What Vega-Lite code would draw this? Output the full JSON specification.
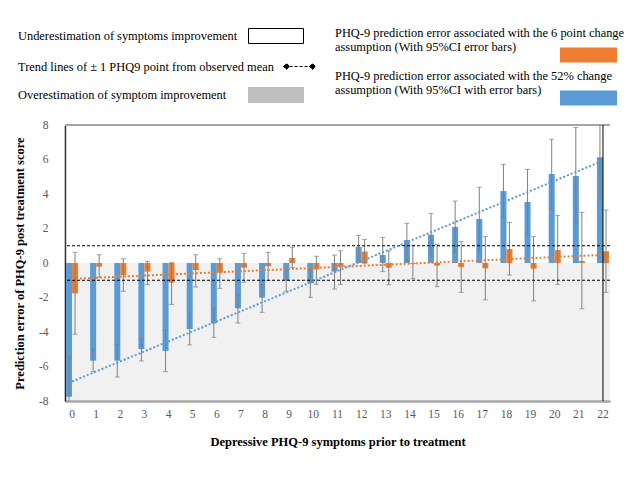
{
  "$schema": "https://vega.github.io/schema/vega-lite/v6.json",
  "width": 545,
  "height": 276,
  "autosize": "none",
  "padding": {"left": 65, "top": 125, "right": 30, "bottom": 79},
  "background": "white",
  "config": {
    "view": {"stroke": null},
    "font": "Liberation Serif",
    "axis": {"labelFont": "Liberation Serif", "titleFont": "Liberation Serif"},
    "axisY": {
      "values": [-8, -6, -4, -2, 0, 2, 4, 6, 8],
      "labelOverlap": false, "labelExpr": "'' + datum.value",
      "labelFontSize": 11.5, "labelColor": "#595959", "labelPadding": 17,
      "ticks": false, "grid": false, "domainColor": "black", "domainWidth": 1.5,
      "titleFontSize": 12.5, "titleFontWeight": "bold", "titleColor": "black", "titlePadding": 12
    },
    "legend": {"labelFont": "Liberation Serif", "titleFont": "Liberation Serif"}
  },
  "datasets": {
    "regions": [
      {"region": "Underestimation of symptoms improvement", "lo": 0, "hi": 8},
      {"region": "Overestimation of symptom improvement", "lo": -8, "hi": 0}
    ],
    "limits": [
      {"kind": "Trend lines of ± 1 PHQ9 point from observed mean", "y": 1},
      {"kind": "Trend lines of ± 1 PHQ9 point from observed mean", "y": -1}
    ],
    "trends": [
      {"score": 0, "series": "52%", "y": -6.87},
      {"score": 22, "series": "52%", "y": 5.93},
      {"score": 0, "series": "6 point", "y": -0.92},
      {"score": 22, "series": "6 point", "y": 0.47}
    ],
    "bars": [
      {"score": 0, "series": "52%", "value": -7.75, "lo": -10.07, "hi": -5.43},
      {"score": 1, "series": "52%", "value": -5.66, "lo": -6.3, "hi": -5.0},
      {"score": 2, "series": "52%", "value": -5.66, "lo": -6.61, "hi": -4.71},
      {"score": 3, "series": "52%", "value": -4.99, "lo": -5.68, "hi": -4.37},
      {"score": 4, "series": "52%", "value": -5.1, "lo": -6.3, "hi": -3.9},
      {"score": 5, "series": "52%", "value": -3.83, "lo": -4.75, "hi": -2.92},
      {"score": 6, "series": "52%", "value": -3.5, "lo": -4.31, "hi": -2.63},
      {"score": 7, "series": "52%", "value": -2.63, "lo": -3.48, "hi": -1.82},
      {"score": 8, "series": "52%", "value": -2.01, "lo": -2.86, "hi": -1.24},
      {"score": 9, "series": "52%", "value": -1.02, "lo": -1.64, "hi": -0.36},
      {"score": 10, "series": "52%", "value": -1.18, "lo": -1.99, "hi": -0.38},
      {"score": 11, "series": "52%", "value": -0.5, "lo": -1.51, "hi": 0.46},
      {"score": 12, "series": "52%", "value": 0.93, "lo": 0.17, "hi": 1.6},
      {"score": 13, "series": "52%", "value": 0.46, "lo": -0.5, "hi": 1.49},
      {"score": 14, "series": "52%", "value": 1.33, "lo": 0.1, "hi": 2.3},
      {"score": 15, "series": "52%", "value": 1.64, "lo": 0.41, "hi": 2.88},
      {"score": 16, "series": "52%", "value": 2.09, "lo": 0.6, "hi": 3.59},
      {"score": 17, "series": "52%", "value": 2.55, "lo": 0.66, "hi": 4.39},
      {"score": 18, "series": "52%", "value": 4.17, "lo": 2.65, "hi": 5.72},
      {"score": 19, "series": "52%", "value": 3.54, "lo": 1.66, "hi": 5.43},
      {"score": 20, "series": "52%", "value": 5.16, "lo": 3.17, "hi": 7.17},
      {"score": 21, "series": "52%", "value": 5.04, "lo": 2.3, "hi": 7.86},
      {"score": 22, "series": "52%", "value": 6.13, "lo": 3.75, "hi": 8.51},
      {"score": 0, "series": "6 point", "value": -1.76, "lo": -4.13, "hi": 0.62},
      {"score": 1, "series": "6 point", "value": -0.21, "lo": -0.83, "hi": 0.48},
      {"score": 2, "series": "6 point", "value": -0.7, "lo": -1.64, "hi": 0.25},
      {"score": 3, "series": "6 point", "value": -0.5, "lo": -1.24, "hi": 0.1},
      {"score": 4, "series": "6 point", "value": -1.14, "lo": -2.4, "hi": 0.02},
      {"score": 5, "series": "6 point", "value": -0.41, "lo": -1.39, "hi": 0.48},
      {"score": 6, "series": "6 point", "value": -0.56, "lo": -1.47, "hi": 0.25},
      {"score": 7, "series": "6 point", "value": -0.27, "lo": -1.12, "hi": 0.56},
      {"score": 8, "series": "6 point", "value": -0.19, "lo": -1.02, "hi": 0.62},
      {"score": 9, "series": "6 point", "value": 0.29, "lo": -0.27, "hi": 0.91},
      {"score": 10, "series": "6 point", "value": -0.37, "lo": -1.24, "hi": 0.39},
      {"score": 11, "series": "6 point", "value": -0.23, "lo": -1.24, "hi": 0.71},
      {"score": 12, "series": "6 point", "value": 0.66, "lo": -0.02, "hi": 1.37},
      {"score": 13, "series": "6 point", "value": -0.27, "lo": -1.26, "hi": 0.71},
      {"score": 14, "series": "6 point", "value": -0.05, "lo": -0.91, "hi": 1.03},
      {"score": 15, "series": "6 point", "value": -0.15, "lo": -1.37, "hi": 1.09},
      {"score": 16, "series": "6 point", "value": -0.23, "lo": -1.7, "hi": 1.24},
      {"score": 17, "series": "6 point", "value": -0.31, "lo": -2.14, "hi": 1.53},
      {"score": 18, "series": "6 point", "value": 0.81, "lo": -0.7, "hi": 2.34},
      {"score": 19, "series": "6 point", "value": -0.33, "lo": -2.2, "hi": 1.53},
      {"score": 20, "series": "6 point", "value": 0.75, "lo": -1.24, "hi": 2.76},
      {"score": 21, "series": "6 point", "value": 0.12, "lo": -2.65, "hi": 2.94},
      {"score": 22, "series": "6 point", "value": 0.68, "lo": -1.7, "hi": 3.07}
    ]
  },
  "layer": [
    {
      "data": {"name": "regions"},
      "mark": {"type": "rect", "opacity": 0.21},
      "encoding": {
        "y": {
          "field": "lo", "type": "quantitative",
          "scale": {"domain": [-8, 8], "nice": false, "zero": false},
          "axis": {"title": "Prediction error of PHQ-9 post treatment score", "values": [-8, -6, -4, -2, 0, 2, 4, 6, 8], "labelOverlap": false}
        },
        "y2": {"field": "hi"},
        "fill": {
          "field": "region", "type": "nominal",
          "scale": {"domain": ["Underestimation of symptoms improvement", "Overestimation of symptom improvement"], "range": ["#ffffff", "#bfbfbf"]},
          "legend": {
            "orient": "none", "legendX": 190.5, "legendY": -109.5, "title": null, "direction": "vertical", "padding": 0,
            "symbolType": "M-1.375,-0.375H1.375V0.375H-1.375Z", "symbolSize": 1600, "symbolStrokeWidth": 1, "symbolOpacity": 1,
            "labelFontSize": 12.4, "labelColor": "black", "labelLimit": 500, "labelAlign": "left", "labelOffset": -278.5,
            "rowPadding": 29,
            "encode": {"symbols": {"update": {
              "opacity": {"value": 1},
              "stroke": {"signal": "datum.value == 'Overestimation of symptom improvement' ? '#bfbfbf' : '#000000'"}
            }}}
          }
        }
      }
    },
    {
      "data": {"values": [{}]},
      "mark": {"type": "rule", "color": "#a6a6a6", "strokeWidth": 2},
      "encoding": {"y": {"datum": 8, "axis": {"title": "Prediction error of PHQ-9 post treatment score", "values": [-8, -6, -4, -2, 0, 2, 4, 6, 8], "labelOverlap": false}}}
    },
    {
      "data": {"name": "bars"},
      "mark": {"type": "bar"},
      "encoding": {
        "x": {
          "field": "score", "type": "ordinal",
          "scale": {"paddingInner": 0.5, "paddingOuter": 0.041},
          "axis": {
            "title": "Depressive PHQ-9 symptoms prior to treatment",
            "titleFontSize": 12.5, "titleFontWeight": "bold", "titleColor": "black", "titlePadding": 16,
            "labelAngle": 0, "labelFontSize": 11.5, "labelColor": "#595959", "labelPadding": 7,
            "ticks": false, "domainColor": "#a6a6a6", "domainWidth": 2.5
          }
        },
        "xOffset": {"field": "series", "type": "nominal", "sort": ["52%", "6 point"]},
        "y": {"field": "value", "type": "quantitative", "axis": {"title": "Prediction error of PHQ-9 post treatment score", "values": [-8, -6, -4, -2, 0, 2, 4, 6, 8], "labelOverlap": false}},
        "color": {
          "field": "series", "type": "nominal",
          "scale": {"domain": ["6 point", "52%"], "range": ["#ed7d31", "#5b9bd5"]},
          "legend": {
            "orient": "none", "legendX": 503.5, "legendY": -90, "title": null, "direction": "vertical", "padding": 0,
            "symbolType": "M-1.425,-0.375H1.425V0.375H-1.425Z", "symbolSize": 1600, "symbolStrokeWidth": 0,
            "labelFontSize": 12.4, "labelColor": "black", "labelLimit": 500, "labelAlign": "left", "labelOffset": -273.5,
            "labelBaseline": "top", "rowPadding": 6,
            "labelExpr": "datum.value == '6 point' ? ['PHQ-9 prediction error associated with the 6 point change', 'assumption (With 95%CI error bars)'] : ['PHQ-9 prediction error associated with the 52% change', 'assumption (With 95%CI with error bars)']",
            "encode": {"labels": {"update": {"lineHeight": {"value": 14.5}, "dy": {"value": -28.5}}}}
          }
        }
      }
    },
    {
      "data": {"name": "bars"},
      "mark": {"type": "rule", "color": "#7f7f7f", "strokeWidth": 1, "clip": true},
      "encoding": {
        "x": {"field": "score", "type": "ordinal"},
        "xOffset": {"field": "series", "type": "nominal", "sort": ["52%", "6 point"]},
        "y": {"field": "lo", "type": "quantitative", "axis": {"title": "Prediction error of PHQ-9 post treatment score", "values": [-8, -6, -4, -2, 0, 2, 4, 6, 8], "labelOverlap": false}},
        "y2": {"field": "hi"}
      }
    },
    {
      "data": {"name": "bars"},
      "mark": {"type": "tick", "color": "#7f7f7f", "thickness": 1, "size": 5, "orient": "horizontal", "clip": true},
      "encoding": {
        "x": {"field": "score", "type": "ordinal"},
        "xOffset": {"field": "series", "type": "nominal", "sort": ["52%", "6 point"]},
        "y": {"field": "lo", "type": "quantitative", "axis": {"title": "Prediction error of PHQ-9 post treatment score", "values": [-8, -6, -4, -2, 0, 2, 4, 6, 8], "labelOverlap": false}}
      }
    },
    {
      "data": {"name": "bars"},
      "mark": {"type": "tick", "color": "#7f7f7f", "thickness": 1, "size": 5, "orient": "horizontal", "clip": true},
      "encoding": {
        "x": {"field": "score", "type": "ordinal"},
        "xOffset": {"field": "series", "type": "nominal", "sort": ["52%", "6 point"]},
        "y": {"field": "hi", "type": "quantitative", "axis": {"title": "Prediction error of PHQ-9 post treatment score", "values": [-8, -6, -4, -2, 0, 2, 4, 6, 8], "labelOverlap": false}}
      }
    },
    {
      "data": {"name": "limits"},
      "mark": {"type": "rule", "color": "black", "strokeWidth": 1},
      "encoding": {
        "y": {"field": "y", "type": "quantitative", "axis": {"title": "Prediction error of PHQ-9 post treatment score", "values": [-8, -6, -4, -2, 0, 2, 4, 6, 8], "labelOverlap": false}},
        "strokeDash": {
          "field": "kind", "type": "nominal",
          "scale": {"range": [[3, 2]]},
          "legend": {
            "orient": "none", "legendX": 218, "legendY": -75, "title": null, "padding": 0,
            "symbolType": "M-1,0L-0.81,-0.19L-0.62,0L-0.81,0.19Z M-0.62,0H0.62 M0.62,0L0.81,-0.19L1,0L0.81,0.19Z",
            "symbolSize": 1024, "symbolFillColor": "black", "symbolStrokeColor": "black", "symbolStrokeWidth": 1,
            "labelFontSize": 12.4, "labelColor": "black", "labelLimit": 500, "labelAlign": "left", "labelOffset": -298
          }
        }
      }
    },
    {
      "data": {"name": "trends"},
      "transform": [{"filter": "datum.series == '52%'"}],
      "mark": {"type": "line", "color": "#5b9bd5", "strokeWidth": 2, "strokeDash": [2, 2]},
      "encoding": {
        "x": {"field": "score", "type": "ordinal"},
        "y": {"field": "y", "type": "quantitative", "axis": {"title": "Prediction error of PHQ-9 post treatment score", "values": [-8, -6, -4, -2, 0, 2, 4, 6, 8], "labelOverlap": false}}
      }
    },
    {
      "data": {"name": "trends"},
      "transform": [{"filter": "datum.series == '6 point'"}],
      "mark": {"type": "line", "color": "#ed7d31", "strokeWidth": 2, "strokeDash": [2, 2]},
      "encoding": {
        "x": {"field": "score", "type": "ordinal"},
        "y": {"field": "y", "type": "quantitative", "axis": {"title": "Prediction error of PHQ-9 post treatment score", "values": [-8, -6, -4, -2, 0, 2, 4, 6, 8], "labelOverlap": false}}
      }
    },
    {
      "data": {"values": [{}]},
      "mark": {"type": "rule", "color": "black", "strokeWidth": 1},
      "encoding": {
        "x": {"datum": 22, "type": "ordinal"},
        "y": {"datum": -8, "axis": {"title": "Prediction error of PHQ-9 post treatment score", "values": [-8, -6, -4, -2, 0, 2, 4, 6, 8], "labelOverlap": false}},
        "y2": {"datum": 8}
      }
    }
  ]
}
